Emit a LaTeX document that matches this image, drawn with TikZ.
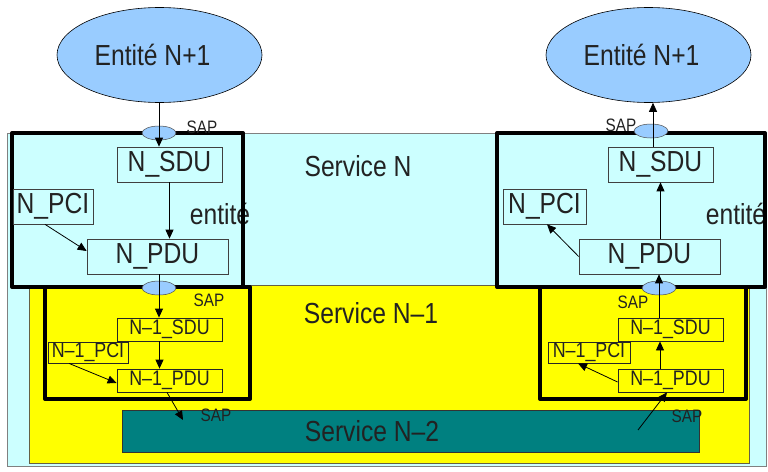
\documentclass[tikz,border=0pt]{standalone}
\usepackage{fontspec}
\setmainfont{Liberation Sans}[FakeStretch=0.85]
\usetikzlibrary{arrows.meta,shapes.geometric}
\definecolor{cyanbg}{HTML}{CCFFFF}
\definecolor{yellowbg}{HTML}{FFFF00}
\definecolor{tealbg}{HTML}{008080}
\definecolor{sapblue}{HTML}{99CCFF}
\definecolor{txt}{HTML}{222222}
\begin{document}
\begin{tikzpicture}[x=1pt,y=-1pt,
  bigfont/.style={font=\fontsize{29}{34}\selectfont},
  midfont/.style={font=\fontsize{21}{25}\selectfont},
  sapfont/.style={font=\fontsize{18}{21}\selectfont, text=txt, inner sep=0pt},
  entell/.style={ellipse, draw=black, line width=0.6pt, fill=sapblue, minimum width=205pt, minimum height=95pt, inner sep=0pt},
  sapell/.style={ellipse, draw=black!70, line width=0.5pt, fill=sapblue, minimum width=34pt, minimum height=14pt, inner sep=0pt},
  bigbox/.style={draw=black!75, line width=0.7pt, inner sep=0pt, bigfont, text=txt, minimum height=35pt},
  smallbox/.style={draw=black!85, line width=0.8pt, inner sep=0pt, midfont, text=txt},
  thickbox/.style={draw=black, line width=4pt, line join=round},
  conn/.style={line width=0.8pt, -{Triangle[length=9pt,width=8pt]}},
  servtext/.style={bigfont, text=txt, inner sep=0pt}
]
\useasboundingbox (0,0) rectangle (768,471);
% background regions
\fill[white] (0,0) rectangle (768,471);
\draw[fill=cyanbg, draw=black!50, line width=0.6pt] (7,133) rectangle (766,466);
\draw[fill=yellowbg, draw=black!70!yellow, line width=0.8pt] (29,285) rectangle (749,463);
\draw[fill=tealbg, draw=black!80, line width=0.8pt] (122,410) rectangle (699,452);

% service labels
\node[servtext] (servN) at (358,166) {Service N};
\node[servtext] (servN1) at (371,313) {Service N\textendash 1};
\node[servtext] (servN2) at (372,431) {Service N\textendash 2};

% entite labels (under thick borders)
\node[servtext] (entL) at (220,214) {entité};
\node[servtext] (entR) at (736,214) {entité};

% thick entity boxes
\draw[thickbox] (12,133) rectangle (243,287);
\draw[thickbox] (497,133) rectangle (765,287);
\draw[thickbox] (45,287) rectangle (250,399);
\draw[thickbox] (540,287) rectangle (746,399);

% upper entities
\node[entell, label={[bigfont, text=txt, xshift=-7pt]center:Entité N+1}] (e1) at (159.5,55) {};
\node[entell, label={[bigfont, text=txt, xshift=-7pt]center:Entité N+1}] (e2) at (648.5,55) {};

% left stack
\node[bigbox, minimum width=105pt] (nsdu) at (169.5,164.5) {N\_SDU};
\node[bigbox, minimum width=80pt] (npci) at (53,206.5) {N\_PCI};
\node[bigbox, minimum width=141pt] (npdu) at (157.5,256.5) {N\_PDU};
\node[smallbox, minimum width=105pt, minimum height=23pt] (n1sdu) at (169.5,329.5) {N\textendash 1\_SDU};
\node[smallbox, minimum width=80pt, minimum height=21pt] (n1pci) at (88,352.5) {N\textendash 1\_PCI};
\node[smallbox, minimum width=105pt, minimum height=23pt] (n1pdu) at (169.5,380.5) {N\textendash 1\_PDU};

% right stack
\node[bigbox, minimum width=105pt] (nsdu2) at (660.5,164.5) {N\_SDU};
\node[bigbox, minimum width=83pt] (npci2) at (544.5,206.5) {N\_PCI};
\node[bigbox, minimum width=141pt] (npdu2) at (649.5,256.5) {N\_PDU};
\node[smallbox, minimum width=105pt, minimum height=23pt] (n1sdu2) at (670.5,329.5) {N\textendash 1\_SDU};
\node[smallbox, minimum width=82pt, minimum height=21pt] (n1pci2) at (589,352.5) {N\textendash 1\_PCI};
\node[smallbox, minimum width=105pt, minimum height=23pt] (n1pdu2) at (670.5,380.5) {N\textendash 1\_PDU};

% SAP ellipses
\node[sapell] (sapL1) at (159,133) {};
\node[sapell] (sapL2) at (159,288) {};
\node[sapell] (sapR1) at (651,131) {};
\node[sapell] (sapR2) at (659,288) {};

% SAP labels
\node[sapfont] (sapt1) at (202,127) {SAP};
\node[sapfont] (sapt2) at (209,300) {SAP};
\node[sapfont] (sapt3) at (216,415) {SAP};
\node[sapfont] (sapt4) at (621,125) {SAP};
\node[sapfont] (sapt5) at (633,302) {SAP};
\node[sapfont] (sapt6) at (687,416) {SAP};

% free ends in the N-2 service
\coordinate (tL) at (183,420);
\coordinate (tR) at (638,430);
\coordinate (xR1) at (653,0);
\coordinate (xR3) at (660,0);

% left connectors
\draw[conn] (sapL1 |- e1.south) -- (sapL1 |- nsdu.north);
\draw[conn] (nsdu.south) -- (nsdu.south |- npdu.north);
\draw[conn] ([xshift=-8pt]npci.south) -- ([yshift=5.5pt]npdu.west);
\draw[conn] (sapL2 |- npdu.south) -- (sapL2 |- n1sdu.north);
\draw[conn] ([xshift=-10pt]n1sdu.south) -- ([xshift=-10pt]n1sdu.south |- n1pdu.north);
\draw[conn] ([xshift=-19pt]n1pci.south) -- ([yshift=-2.5pt]n1pdu.west);
\draw[conn] ([xshift=-2.5pt]n1pdu.south) -- (tL);

% right connectors
\draw[conn] (xR1 |- nsdu2.north) -- (xR1 |- e2.south);
\draw[conn] (nsdu2.south |- npdu2.north) -- (nsdu2.south);
\draw[conn] (npdu2.west) -- ([xshift=2.5pt]npci2.south);
\draw[conn] (sapR2 |- n1sdu2.north) -- (sapR2 |- npdu2.south);
\draw[conn] (xR3 |- n1pdu2.north) -- (xR3 |- n1sdu2.south);
\draw[conn] ([yshift=-1.5pt]n1pdu2.west) -- ([xshift=-11pt]n1pci2.south);
\draw[conn] (tR) -- ([xshift=-3.5pt]n1pdu2.south);
\end{tikzpicture}
\end{document}
